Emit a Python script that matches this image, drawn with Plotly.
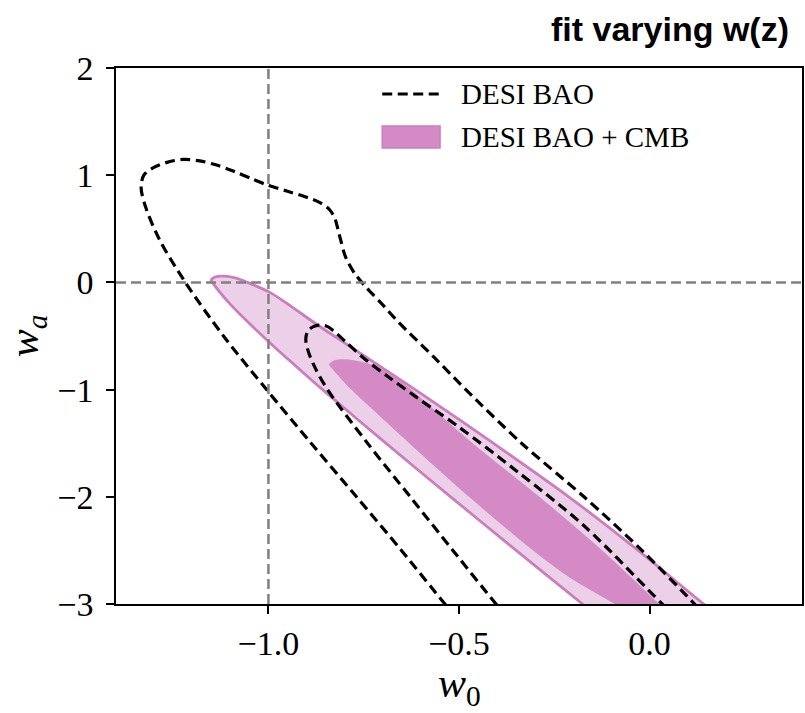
import plotly.graph_objects as go

# ---- contour data (w0, wa) ----
# DESI BAO, 95% contour (left side bottom -> top -> right side bottom)
bao95_w0 = [-0.508, -0.537, -0.651, -0.769, -0.888, -1.005, -1.118, -1.218, -1.286, -1.322,
            -1.334, -1.327, -1.302, -1.266, -1.224, -1.180, -1.136, -1.090, -1.045, -1.000,
            -0.950, -0.900, -0.865, -0.840, -0.826, -0.818, -0.810, -0.798, -0.775, -0.745,
            -0.700, -0.659, -0.565, -0.482, -0.336, -0.172, -0.020, 0.118, 0.150]
bao95_wa = [-3.12, -3.00, -2.50, -2.00, -1.50, -1.00, -0.50, 0.00, 0.40, 0.70,
            0.88, 1.00, 1.07, 1.12, 1.147, 1.133, 1.095, 1.035, 0.968, 0.905,
            0.850, 0.795, 0.745, 0.680, 0.600, 0.500, 0.390, 0.240, 0.090, -0.040,
            -0.210, -0.370, -0.700, -1.000, -1.500, -2.000, -2.500, -3.000, -3.12]

# DESI BAO, 68% contour
bao68_w0 = [-0.375, -0.403, -0.516, -0.628, -0.740, -0.845, -0.877, -0.895, -0.902, -0.897,
            -0.882, -0.864, -0.846, -0.830, -0.800, -0.752, -0.686, -0.612, -0.500, -0.345,
            -0.172, 0.033, 0.068]
bao68_wa = [-3.12, -3.00, -2.50, -2.00, -1.50, -1.00, -0.80, -0.65, -0.53, -0.455,
            -0.412, -0.398, -0.410, -0.450, -0.545, -0.700, -0.880, -1.070, -1.350, -1.770,
            -2.270, -3.000, -3.12]

# DESI BAO + CMB, 95% region (lower edge -> tip -> upper edge)
cmb95_w0 = [-0.125, -0.176, -0.350, -0.522, -0.692, -0.858, -0.922, -0.985, -1.045, -1.101,
            -1.141, -1.150, -1.138, -1.115, -1.085, -1.055, -0.993, -0.950, -0.870, -0.785,
            -0.700, -0.615, -0.410, -0.212, -0.030, 0.142, 0.197]
cmb95_wa = [-3.15, -3.00, -2.50, -2.00, -1.50, -1.00, -0.80, -0.60, -0.40, -0.20,
            -0.03, 0.020, 0.053, 0.058, 0.040, 0.000, -0.10, -0.20, -0.40, -0.60,
            -0.80, -1.00, -1.50, -2.00, -2.50, -3.00, -3.15]

# DESI BAO + CMB, 68% region
cmb68_w0 = [-0.020, -0.090, -0.210, -0.305, -0.473, -0.630, -0.706, -0.782, -0.826, -0.840,
            -0.828, -0.800, -0.760, -0.720, -0.680, -0.640, -0.465, -0.290, -0.125, 0.025,
            0.070]
cmb68_wa = [-3.15, -3.00, -2.75, -2.50, -2.00, -1.50, -1.25, -1.00, -0.83, -0.765,
            -0.730, -0.720, -0.740, -0.780, -0.855, -0.960, -1.50, -2.00, -2.50, -3.00,
            -3.15]

series_names = ["DESI BAO", "DESI BAO + CMB"]
x_ticks = [-1.0, -0.5, 0.0]
y_ticks = [-3, -2, -1, 0, 1, 2]
ref_w0, ref_wa = -1.0, 0.0

# ---- styling ----
W, H = 805, 713
ML, MR, MT, MB = 116, 1, 68, 109
LIGHT = "#ecd0e8"
DARK = "#d48ac5"
EDGE = "#cc7dbd"
GREY = "#808080"
SERIF = "Liberation Serif"
SPLINE = dict(shape="spline", smoothing=0.9)


def px_x(px):
    return (px - ML) / (W - ML - MR)


def px_y(py):
    return (H - MB - py) / (H - MT - MB)


fig = go.Figure()

fig.add_trace(go.Scatter(
    x=cmb95_w0, y=cmb95_wa, mode="lines", fill="toself", fillcolor=LIGHT,
    line=dict(color=EDGE, width=2.8, **SPLINE),
    name=series_names[1], hoverinfo="skip"))
fig.add_trace(go.Scatter(
    x=cmb68_w0, y=cmb68_wa, mode="lines", fill="toself", fillcolor=DARK,
    line=dict(color=DARK, width=0.5, **SPLINE),
    name=series_names[1], hoverinfo="skip"))
for xs, ys in [(bao95_w0, bao95_wa), (bao68_w0, bao68_wa)]:
    fig.add_trace(go.Scatter(
        x=xs, y=ys, mode="lines",
        line=dict(color="black", width=3.2, dash="10px,5.5px", **SPLINE),
        name=series_names[0], hoverinfo="skip"))

axis_common = dict(
    showline=True, mirror=True, linecolor="black", linewidth=1.6,
    ticks="outside", ticklen=8, tickwidth=1.6, tickcolor="black",
    showgrid=False, zeroline=False,
    tickfont=dict(family=SERIF, size=34, color="black"),
)
fig.update_xaxes(range=[-1.4, 0.4], tickvals=x_ticks, tickformat=".1f", **axis_common)
fig.update_yaxes(range=[-3, 2], tickvals=y_ticks, tickformat="d", ticklabelstandoff=6,
                 **axis_common)

shapes = [
    # reference lines at w0 = -1 and wa = 0
    dict(type="line", xref="x", yref="paper", x0=ref_w0, x1=ref_w0, y0=0, y1=1,
         line=dict(color=GREY, width=2.5, dash="10px,5px")),
    dict(type="line", xref="paper", yref="y", x0=0, x1=1, y0=ref_wa, y1=ref_wa,
         line=dict(color=GREY, width=2.5, dash="10px,5px")),
    # legend handles
    dict(type="line", xref="paper", yref="paper",
         x0=px_x(383), x1=px_x(440), y0=px_y(94), y1=px_y(94),
         line=dict(color="black", width=3.2, dash="10px,5.5px")),
    dict(type="rect", xref="paper", yref="paper",
         x0=px_x(383), x1=px_x(441), y0=px_y(126), y1=px_y(148),
         fillcolor=DARK, line=dict(color=EDGE, width=1.5, dash="solid")),
]
annotations = [
    dict(text=series_names[0], x=px_x(460), y=px_y(94), xref="paper", yref="paper",
         xanchor="left", yanchor="middle", showarrow=False,
         font=dict(family=SERIF, size=29, color="black")),
    dict(text=series_names[1], x=px_x(460), y=px_y(137), xref="paper", yref="paper",
         xanchor="left", yanchor="middle", showarrow=False,
         font=dict(family=SERIF, size=29, color="black")),
    dict(text="<b>fit varying w(z)</b>", x=px_x(793), y=px_y(29), xref="paper", yref="paper",
         xanchor="right", yanchor="middle", showarrow=False,
         font=dict(family="Liberation Sans", size=34, color="black")),
    dict(text="<i>w</i><sub>0</sub>", x=0.5, y=px_y(686), xref="paper", yref="paper",
         xanchor="center", yanchor="middle", showarrow=False,
         font=dict(family=SERIF, size=42, color="black")),
    dict(text="<i>w</i><sub><i>a</i></sub>", x=px_x(27), y=0.5, xref="paper", yref="paper",
         xanchor="center", yanchor="middle", showarrow=False, textangle=-90,
         font=dict(family=SERIF, size=42, color="black")),
]

fig.update_layout(
    width=W, height=H, margin=dict(l=ML, r=MR, t=MT, b=MB),
    paper_bgcolor="white", plot_bgcolor="white",
    showlegend=False, shapes=shapes, annotations=annotations,
)

fig.write_html("out.html")
